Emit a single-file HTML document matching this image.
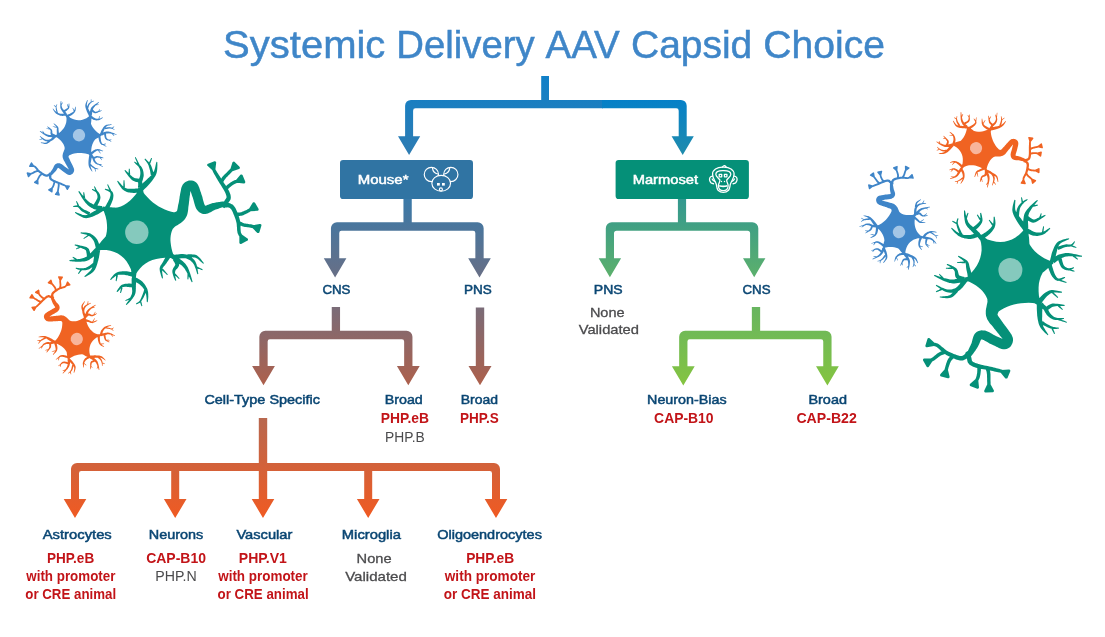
<!DOCTYPE html>
<html><head><meta charset="utf-8"><title>Systemic Delivery AAV Capsid Choice</title>
<style>
html,body{margin:0;padding:0;background:#fff;}
body{width:1105px;height:637px;overflow:hidden;font-family:"Liberation Sans",sans-serif;}
svg{display:block;will-change:transform;opacity:0.9999;}
text{font-family:"Liberation Sans",sans-serif;}
</style></head><body>
<svg width="1105" height="637" viewBox="0 0 1105 637">
<defs>
<linearGradient id="gTopL" gradientUnits="userSpaceOnUse" x1="0" y1="76" x2="0" y2="155"><stop offset="0" stop-color="#1080c8"/><stop offset="1" stop-color="#2f7cb2"/></linearGradient>
<linearGradient id="gTopR" gradientUnits="userSpaceOnUse" x1="0" y1="100" x2="0" y2="155"><stop offset="0" stop-color="#0580c8"/><stop offset="1" stop-color="#208cac"/></linearGradient>
<clipPath id="cL"><rect x="0" y="0" width="603" height="637"/></clipPath>
<clipPath id="cR"><rect x="602" y="0" width="503" height="637"/></clipPath>
<linearGradient id="gMouse" gradientUnits="userSpaceOnUse" x1="0" y1="199" x2="0" y2="277"><stop offset="0" stop-color="#3a79a8"/><stop offset="1" stop-color="#686f86"/></linearGradient>
<linearGradient id="gMarm" gradientUnits="userSpaceOnUse" x1="0" y1="199" x2="0" y2="277"><stop offset="0" stop-color="#33988f"/><stop offset="1" stop-color="#5cb06c"/></linearGradient>
<linearGradient id="gMauve" gradientUnits="userSpaceOnUse" x1="0" y1="307" x2="0" y2="385"><stop offset="0" stop-color="#7a6c78"/><stop offset="1" stop-color="#ad604c"/></linearGradient>
<linearGradient id="gGreen" gradientUnits="userSpaceOnUse" x1="0" y1="307" x2="0" y2="385"><stop offset="0" stop-color="#68b560"/><stop offset="1" stop-color="#84c441"/></linearGradient>
<linearGradient id="gOrange" gradientUnits="userSpaceOnUse" x1="0" y1="418" x2="0" y2="518"><stop offset="0" stop-color="#b8684f"/><stop offset="1" stop-color="#f05a22"/></linearGradient>
<path id="nrn" d="M-32.0,-35.2 -27.3,-32.6 -22.8,-30.6 -18.4,-29.2 -14.1,-28.3 -10.0,-28.0 -6.0,-28.3 -2.2,-29.2 1.5,-30.6 5.1,-32.6 8.5,-35.1 11.8,-38.3 14.9,-42.0 15.2,-38.1 15.9,-34.4 16.9,-30.8 18.2,-27.5 19.9,-24.4 22.0,-21.5 24.4,-18.8 27.2,-16.3 30.3,-13.9 33.8,-11.8 37.6,-9.9 41.8,-8.2 38.8,-5.6 36.1,-2.8 33.9,0.2 32.0,3.3 30.4,6.6 29.3,10.0 28.5,13.6 28.2,17.4 28.2,21.3 28.5,25.4 29.3,29.6 30.4,34.0 26.2,33.4 22.2,33.0 18.2,32.8 14.4,32.9 10.6,33.2 7.0,33.8 3.5,34.6 0.1,35.6 -3.2,36.8 -6.4,38.3 -9.5,40.0 -12.5,42.0 -13.2,41.5 -13.9,41.0 -14.6,40.4 -15.4,39.7 -16.2,38.9 -17.0,38.0 -17.8,37.0 -18.7,36.0 -19.6,34.9 -20.6,33.7 -21.5,32.4 -22.5,31.0 -23.2,28.8 -24.1,26.7 -25.2,24.7 -26.6,22.7 -28.2,20.8 -30.0,19.0 -32.1,17.3 -34.4,15.6 -36.9,14.0 -39.7,12.4 -42.7,11.0 -46.0,9.6 -42.1,6.1 -38.8,2.6 -35.9,-1.0 -33.5,-4.6 -31.6,-8.3 -30.2,-12.0 -29.3,-15.8 -28.8,-19.6 -28.9,-23.4 -29.4,-27.3 -30.5,-31.2ZM-25.0,-19.8 -25.3,-20.6 -25.8,-21.6 -26.4,-22.8 -27.1,-24.1 -27.8,-25.4 -28.5,-26.7 -29.1,-27.9 -29.6,-28.9 -30.2,-29.7 -30.8,-30.5 -31.4,-31.3 -32.0,-32.0 -32.5,-32.6 -33.0,-33.2 -33.3,-33.8 -33.6,-34.2 -31.2,-36.6 -30.8,-36.4 -30.3,-36.0 -29.6,-35.6 -29.0,-35.1 -28.2,-34.5 -27.4,-33.9 -26.6,-33.2 -25.8,-32.5 -24.7,-31.8 -23.6,-31.0 -22.4,-30.1 -21.2,-29.2 -20.0,-28.3 -18.9,-27.6 -17.9,-26.9 -17.2,-26.6ZM-31.7,-33.3 -32.2,-33.1 -32.9,-32.9 -33.9,-32.5 -34.9,-32.2 -36.1,-31.8 -37.3,-31.5 -38.5,-31.2 -39.8,-31.1 -40.9,-31.0 -42.1,-31.1 -43.3,-31.2 -44.5,-31.4 -45.7,-31.6 -46.8,-31.9 -47.9,-32.2 -48.9,-32.5 -49.8,-32.9 -50.7,-33.4 -51.4,-33.8 -52.2,-34.3 -52.8,-34.8 -53.5,-35.4 -54.1,-35.9 -54.7,-36.5 -55.4,-37.1 -56.1,-37.8 -56.8,-38.6 -57.4,-39.3 -58.0,-40.0 -58.6,-40.7 -59.0,-41.3 -59.3,-41.7 -58.7,-42.3 -58.2,-42.0 -57.7,-41.6 -57.1,-41.0 -56.4,-40.4 -55.6,-39.8 -54.9,-39.2 -54.1,-38.6 -53.4,-38.1 -52.8,-37.7 -52.1,-37.3 -51.5,-36.9 -50.8,-36.5 -50.1,-36.2 -49.5,-35.9 -48.8,-35.7 -48.0,-35.5 -47.1,-35.3 -46.2,-35.1 -45.2,-35.0 -44.1,-34.9 -43.1,-34.9 -42.0,-34.9 -41.0,-35.0 -40.2,-35.1 -39.3,-35.2 -38.4,-35.5 -37.4,-35.8 -36.4,-36.2 -35.4,-36.6 -34.5,-37.0 -33.8,-37.3 -33.2,-37.5ZM-49.6,-33.7 -49.8,-34.2 -50.1,-34.7 -50.4,-35.5 -50.8,-36.3 -51.2,-37.1 -51.6,-38.0 -52.0,-38.9 -52.3,-39.7 -52.6,-40.5 -52.9,-41.4 -53.2,-42.3 -53.4,-43.2 -53.7,-44.1 -53.9,-45.0 -54.0,-45.8 -54.1,-46.7 -54.1,-47.5 -54.0,-48.3 -53.8,-49.0 -53.6,-49.7 -53.4,-50.4 -53.2,-50.9 -53.0,-51.4 -52.9,-51.7 -51.9,-51.5 -52.0,-51.1 -52.1,-50.6 -52.2,-50.1 -52.4,-49.4 -52.5,-48.8 -52.6,-48.1 -52.6,-47.4 -52.6,-46.8 -52.4,-46.1 -52.2,-45.4 -51.9,-44.6 -51.6,-43.8 -51.3,-43.0 -50.9,-42.1 -50.6,-41.3 -50.2,-40.5 -49.9,-39.8 -49.5,-39.0 -49.1,-38.1 -48.7,-37.3 -48.2,-36.6 -47.9,-35.9 -47.5,-35.3 -47.3,-34.9ZM-53.5,-45.5 -54.1,-45.9 -54.7,-46.2 -55.3,-46.6 -55.9,-46.9 -56.5,-47.3 -57.1,-47.7 -57.7,-48.0 -58.3,-48.4 -57.8,-49.2 -57.2,-48.9 -56.6,-48.7 -55.9,-48.4 -55.3,-48.1 -54.7,-47.8 -54.0,-47.5 -53.4,-47.3 -52.8,-47.0ZM-33.6,-33.2 -34.0,-33.7 -34.5,-34.2 -35.1,-34.8 -35.8,-35.6 -36.5,-36.3 -37.3,-37.1 -38.0,-37.9 -38.6,-38.6 -39.3,-39.2 -39.9,-39.9 -40.7,-40.6 -41.4,-41.4 -42.2,-42.2 -42.9,-43.0 -43.6,-43.9 -44.2,-44.9 -44.7,-45.9 -45.1,-47.0 -45.4,-48.1 -45.6,-49.2 -45.8,-50.2 -45.9,-51.2 -46.0,-52.2 -46.2,-53.1 -46.3,-54.0 -46.4,-55.0 -46.4,-55.9 -46.4,-56.8 -46.4,-57.6 -46.4,-58.3 -46.4,-58.9 -46.4,-59.4 -45.4,-59.5 -45.3,-59.0 -45.2,-58.4 -45.0,-57.7 -44.9,-56.9 -44.7,-56.1 -44.6,-55.2 -44.4,-54.4 -44.1,-53.5 -43.8,-52.7 -43.6,-51.8 -43.3,-50.8 -42.9,-49.9 -42.6,-49.0 -42.2,-48.1 -41.8,-47.3 -41.3,-46.7 -40.8,-46.0 -40.3,-45.4 -39.6,-44.8 -38.8,-44.2 -38.1,-43.6 -37.2,-43.0 -36.4,-42.4 -35.6,-41.7 -34.9,-41.0 -34.1,-40.3 -33.3,-39.5 -32.6,-38.8 -31.8,-38.1 -31.2,-37.5 -30.7,-37.0 -30.2,-36.6ZM-45.3,-51.8 -45.0,-52.4 -44.7,-53.1 -44.4,-53.8 -44.0,-54.5 -43.7,-55.2 -43.4,-55.9 -43.1,-56.6 -42.7,-57.3 -41.9,-56.9 -42.1,-56.2 -42.3,-55.5 -42.5,-54.7 -42.8,-54.0 -43.0,-53.3 -43.2,-52.6 -43.4,-51.8 -43.6,-51.1ZM-38.4,-42.1 -38.0,-42.4 -37.4,-42.8 -36.8,-43.2 -36.1,-43.7 -35.4,-44.3 -34.8,-44.8 -34.2,-45.3 -33.6,-45.8 -33.1,-46.3 -32.6,-46.8 -32.1,-47.3 -31.6,-47.8 -31.2,-48.3 -30.8,-48.7 -30.5,-49.2 -30.3,-49.8 -30.2,-50.5 -30.1,-51.4 -30.0,-52.4 -30.1,-53.5 -30.2,-54.6 -30.2,-55.6 -30.3,-56.4 -30.2,-57.0 -29.3,-57.2 -29.1,-56.6 -28.9,-55.8 -28.6,-54.8 -28.4,-53.7 -28.2,-52.6 -28.0,-51.5 -27.9,-50.4 -27.9,-49.3 -28.1,-48.4 -28.4,-47.5 -28.8,-46.7 -29.3,-46.0 -29.7,-45.3 -30.2,-44.7 -30.7,-44.1 -31.2,-43.5 -31.8,-42.8 -32.4,-42.2 -33.1,-41.5 -33.8,-40.9 -34.5,-40.3 -35.1,-39.8 -35.5,-39.4 -35.9,-39.1ZM-30.8,-49.9 -31.1,-50.5 -31.5,-51.1 -31.8,-51.8 -32.2,-52.4 -32.5,-53.0 -32.9,-53.7 -33.2,-54.3 -33.6,-55.0 -32.8,-55.5 -32.3,-54.9 -31.9,-54.3 -31.5,-53.7 -31.1,-53.1 -30.6,-52.5 -30.2,-51.9 -29.8,-51.3 -29.4,-50.8ZM-29.5,-34.9 -28.9,-35.3 -28.0,-35.8 -27.1,-36.3 -26.1,-37.0 -25.1,-37.6 -24.1,-38.3 -23.2,-39.0 -22.4,-39.6 -21.7,-40.3 -20.9,-40.9 -20.2,-41.6 -19.6,-42.3 -19.0,-43.0 -18.5,-43.7 -18.0,-44.5 -17.6,-45.2 -17.3,-46.1 -17.1,-47.1 -17.0,-48.3 -16.9,-49.5 -16.8,-50.6 -16.8,-51.7 -16.8,-52.6 -16.7,-53.3 -15.7,-53.3 -15.6,-52.7 -15.5,-51.8 -15.3,-50.7 -15.1,-49.5 -15.0,-48.2 -14.9,-47.0 -15.0,-45.7 -15.2,-44.5 -15.5,-43.4 -15.9,-42.3 -16.5,-41.3 -17.0,-40.4 -17.7,-39.5 -18.4,-38.6 -19.1,-37.7 -19.8,-36.9 -20.7,-36.0 -21.7,-35.2 -22.7,-34.3 -23.8,-33.5 -24.8,-32.8 -25.6,-32.1 -26.4,-31.6 -26.9,-31.2ZM-18.2,-44.5 -18.7,-45.1 -19.1,-45.8 -19.5,-46.5 -20.0,-47.1 -20.4,-47.8 -20.8,-48.4 -21.2,-49.1 -21.7,-49.7 -20.9,-50.3 -20.4,-49.7 -19.9,-49.1 -19.4,-48.5 -18.9,-47.9 -18.3,-47.3 -17.8,-46.8 -17.3,-46.2 -16.8,-45.6ZM8.3,-24.2 8.8,-25.1 9.3,-26.3 9.8,-27.7 10.4,-29.2 11.0,-30.8 11.5,-32.3 12.0,-33.7 12.4,-34.9 12.6,-35.9 12.7,-37.0 12.7,-38.0 12.7,-39.0 12.8,-39.9 12.8,-40.8 12.8,-41.5 12.9,-42.1 16.8,-42.5 17.0,-42.0 17.2,-41.3 17.4,-40.4 17.6,-39.5 17.8,-38.4 18.0,-37.2 18.2,-35.9 18.3,-34.6 18.5,-33.2 18.7,-31.5 18.8,-29.8 18.9,-28.0 19.0,-26.4 19.1,-24.9 19.3,-23.6 19.5,-22.7ZM12.6,-40.1 12.2,-40.7 11.6,-41.5 10.9,-42.5 10.0,-43.6 9.2,-44.8 8.3,-46.0 7.5,-47.3 6.7,-48.5 6.1,-49.6 5.4,-50.8 4.7,-52.0 4.0,-53.3 3.3,-54.7 2.8,-56.0 2.3,-57.5 2.0,-59.0 1.9,-60.5 2.1,-62.2 2.3,-63.8 2.7,-65.4 3.1,-66.9 3.4,-68.3 3.8,-69.4 4.0,-70.2 5.0,-70.0 5.0,-69.2 4.9,-68.0 4.8,-66.6 4.7,-65.1 4.7,-63.6 4.7,-62.1 4.8,-60.7 5.1,-59.6 5.5,-58.6 6.0,-57.5 6.7,-56.5 7.4,-55.4 8.2,-54.4 9.1,-53.3 9.9,-52.2 10.8,-51.2 11.5,-50.1 12.4,-49.1 13.3,-48.0 14.2,-46.9 15.1,-45.9 15.9,-45.0 16.6,-44.2 17.1,-43.6ZM5.2,-52.9 5.3,-53.6 5.5,-54.5 5.6,-55.7 5.8,-57.0 6.0,-58.3 6.3,-59.7 6.6,-60.9 7.0,-62.1 7.5,-63.1 8.0,-63.9 8.6,-64.8 9.2,-65.5 9.8,-66.2 10.4,-66.8 11.1,-67.4 11.7,-67.9 12.4,-68.5 13.1,-69.0 13.8,-69.4 14.6,-69.9 15.2,-70.2 15.9,-70.5 16.4,-70.8 16.8,-71.0 17.3,-70.2 16.9,-69.9 16.5,-69.5 15.9,-69.1 15.3,-68.7 14.7,-68.2 14.0,-67.7 13.5,-67.2 13.0,-66.6 12.5,-66.0 11.9,-65.4 11.4,-64.8 11.0,-64.1 10.5,-63.4 10.1,-62.7 9.8,-61.9 9.5,-61.2 9.3,-60.3 9.1,-59.1 8.9,-57.9 8.8,-56.6 8.7,-55.4 8.6,-54.2 8.6,-53.2 8.5,-52.5ZM11.2,-66.6 11.2,-67.4 11.1,-68.1 11.0,-68.9 10.9,-69.6 10.9,-70.3 10.8,-71.1 10.7,-71.8 10.6,-72.6 11.6,-72.7 11.7,-72.0 11.9,-71.3 12.1,-70.6 12.3,-69.8 12.5,-69.1 12.7,-68.4 12.8,-67.7 13.0,-67.0ZM12.4,-41.9 12.5,-42.9 12.6,-44.2 12.7,-45.9 12.8,-47.8 12.9,-49.7 13.1,-51.6 13.4,-53.4 13.7,-55.0 14.2,-56.4 14.7,-57.6 15.3,-58.6 16.0,-59.6 16.7,-60.5 17.4,-61.3 18.1,-62.1 18.9,-63.0 19.8,-64.0 20.9,-65.0 22.0,-66.1 23.1,-67.1 24.2,-68.1 25.3,-68.9 26.1,-69.6 26.8,-70.1 27.5,-69.5 27.0,-68.8 26.3,-67.9 25.5,-66.9 24.6,-65.8 23.6,-64.6 22.7,-63.4 21.9,-62.2 21.2,-61.2 20.6,-60.2 20.0,-59.3 19.5,-58.5 19.1,-57.7 18.7,-56.9 18.4,-56.0 18.1,-55.1 17.9,-54.1 17.7,-52.8 17.7,-51.3 17.6,-49.5 17.6,-47.7 17.7,-45.9 17.8,-44.2 17.8,-42.8 17.9,-41.8ZM22.5,-64.8 23.1,-64.9 23.7,-64.9 24.3,-65.0 24.9,-65.1 25.5,-65.2 26.1,-65.2 26.7,-65.3 27.3,-65.4 27.5,-64.5 26.9,-64.3 26.3,-64.1 25.8,-64.0 25.2,-63.8 24.6,-63.6 24.0,-63.5 23.4,-63.3 22.8,-63.2ZM17.5,-54.1 18.1,-53.7 18.7,-53.2 19.5,-52.6 20.3,-52.0 21.1,-51.5 21.8,-51.0 22.5,-50.7 23.0,-50.5 23.5,-50.5 24.1,-50.6 24.8,-50.8 25.6,-51.1 26.4,-51.5 27.3,-51.9 28.1,-52.3 29.0,-52.7 29.8,-53.0 30.6,-53.4 31.4,-53.7 32.2,-54.1 33.0,-54.4 33.7,-54.7 34.3,-55.0 34.7,-55.2 35.2,-54.3 34.8,-54.0 34.3,-53.7 33.7,-53.2 33.0,-52.7 32.3,-52.2 31.5,-51.7 30.7,-51.2 30.0,-50.8 29.3,-50.3 28.5,-49.8 27.7,-49.2 26.9,-48.7 26.0,-48.2 25.0,-47.7 23.9,-47.4 22.8,-47.3 21.5,-47.4 20.4,-47.9 19.3,-48.4 18.3,-49.0 17.3,-49.6 16.5,-50.2 15.9,-50.6 15.4,-50.8ZM28.5,-51.8 28.7,-52.4 29.0,-53.0 29.2,-53.7 29.5,-54.3 29.7,-54.9 30.0,-55.5 30.2,-56.1 30.4,-56.8 31.3,-56.5 31.2,-55.8 31.0,-55.2 30.9,-54.5 30.7,-53.9 30.5,-53.2 30.4,-52.6 30.2,-51.9 30.1,-51.3ZM16.9,-42.0 17.5,-41.6 18.3,-41.1 19.2,-40.5 20.3,-39.9 21.3,-39.3 22.4,-38.7 23.4,-38.3 24.2,-38.0 25.1,-37.8 26.1,-37.6 27.0,-37.5 28.0,-37.5 29.0,-37.5 30.0,-37.5 30.9,-37.7 31.8,-37.9 32.8,-38.2 33.8,-38.7 34.9,-39.3 36.0,-40.0 37.0,-40.7 37.9,-41.3 38.7,-41.8 39.4,-42.2 39.9,-41.5 39.5,-40.9 38.8,-40.3 38.0,-39.5 37.1,-38.6 36.0,-37.7 35.0,-36.8 33.9,-36.0 32.8,-35.4 31.6,-35.0 30.5,-34.7 29.4,-34.4 28.2,-34.2 27.0,-34.1 25.8,-34.1 24.6,-34.2 23.4,-34.3 22.1,-34.6 20.8,-35.1 19.5,-35.6 18.3,-36.2 17.2,-36.8 16.2,-37.3 15.4,-37.7 14.8,-37.9ZM31.3,-37.0 31.5,-37.8 31.7,-38.7 31.9,-39.5 32.0,-40.4 32.2,-41.2 32.4,-42.1 32.6,-42.9 32.8,-43.8 33.7,-43.6 33.6,-42.8 33.5,-41.9 33.4,-41.0 33.3,-40.2 33.2,-39.3 33.1,-38.4 33.0,-37.6 32.9,-36.7ZM23.2,-3.8 24.2,-3.9 25.5,-4.2 27.1,-4.7 28.7,-5.1 30.4,-5.7 32.1,-6.2 33.6,-6.6 34.8,-6.9 35.8,-7.4 36.7,-7.8 37.6,-8.2 38.4,-8.6 39.1,-9.0 39.8,-9.3 40.4,-9.6 40.9,-9.8 43.0,-6.7 42.7,-6.3 42.3,-5.9 41.7,-5.4 41.1,-4.8 40.4,-4.1 39.6,-3.5 38.7,-2.8 37.7,-2.0 36.7,-1.0 35.5,0.0 34.1,1.2 32.8,2.3 31.4,3.4 30.2,4.5 29.3,5.4 28.6,6.2ZM39.2,-8.3 39.5,-9.1 39.8,-10.3 40.1,-11.6 40.5,-13.1 40.9,-14.8 41.3,-16.4 41.8,-17.9 42.3,-19.3 42.8,-20.5 43.2,-21.6 43.7,-22.8 44.3,-24.0 44.9,-25.1 45.7,-26.2 46.5,-27.3 47.6,-28.2 48.9,-29.0 50.4,-29.6 52.0,-30.2 53.6,-30.7 55.1,-31.0 56.5,-31.4 57.7,-31.6 58.5,-31.8 58.9,-30.9 58.1,-30.5 57.0,-30.0 55.6,-29.4 54.2,-28.8 52.8,-28.2 51.4,-27.5 50.3,-26.7 49.5,-26.0 48.9,-25.2 48.4,-24.4 47.9,-23.5 47.6,-22.6 47.3,-21.5 46.9,-20.4 46.6,-19.2 46.3,-17.9 46.0,-16.7 45.6,-15.3 45.3,-13.7 45.0,-12.2 44.8,-10.7 44.6,-9.3 44.4,-8.1 44.2,-7.2ZM46.8,-23.2 47.5,-23.4 48.3,-23.6 49.3,-24.0 50.4,-24.3 51.6,-24.7 52.7,-25.0 53.8,-25.3 54.8,-25.6 55.8,-25.7 56.7,-25.7 57.5,-25.6 58.2,-25.6 58.9,-25.5 59.5,-25.5 60.0,-25.5 60.4,-25.6 60.9,-25.8 61.4,-26.1 61.9,-26.6 62.4,-27.1 62.9,-27.6 63.3,-28.1 63.7,-28.5 64.0,-28.8 64.7,-28.2 64.5,-27.9 64.2,-27.4 63.9,-26.8 63.5,-26.2 63.0,-25.6 62.5,-24.9 61.9,-24.4 61.2,-23.9 60.4,-23.6 59.7,-23.4 58.9,-23.3 58.2,-23.3 57.5,-23.3 56.8,-23.2 56.1,-23.1 55.4,-23.0 54.6,-22.7 53.6,-22.4 52.5,-21.9 51.4,-21.5 50.4,-21.1 49.4,-20.7 48.6,-20.3 48.0,-20.1ZM60.9,-25.2 61.5,-24.9 62.2,-24.6 62.9,-24.3 63.5,-24.0 64.2,-23.7 64.8,-23.4 65.5,-23.1 66.1,-22.8 65.8,-21.9 65.1,-22.2 64.4,-22.4 63.7,-22.6 63.0,-22.8 62.4,-23.0 61.7,-23.2 61.0,-23.5 60.3,-23.7ZM41.0,-10.7 41.5,-11.0 42.2,-11.5 43.1,-12.1 44.1,-12.8 45.1,-13.5 46.3,-14.2 47.4,-14.9 48.6,-15.4 49.7,-15.7 50.7,-16.1 51.8,-16.3 52.9,-16.6 54.0,-16.8 55.2,-16.9 56.5,-16.9 58.0,-16.9 59.6,-16.7 61.5,-16.4 63.4,-16.1 65.5,-15.7 67.4,-15.2 69.2,-14.8 70.6,-14.5 71.7,-14.2 71.6,-13.2 70.4,-13.2 68.9,-13.3 67.1,-13.5 65.2,-13.6 63.2,-13.7 61.2,-13.8 59.4,-13.8 58.0,-13.7 56.7,-13.6 55.6,-13.4 54.7,-13.2 53.7,-12.9 52.9,-12.6 52.0,-12.3 51.2,-11.9 50.3,-11.5 49.5,-11.0 48.6,-10.5 47.7,-9.8 46.7,-9.1 45.9,-8.4 45.1,-7.8 44.4,-7.2 43.8,-6.8ZM63.2,-15.1 63.8,-14.6 64.3,-14.0 64.9,-13.5 65.5,-13.0 66.0,-12.5 66.6,-12.0 67.1,-11.5 67.7,-11.0 67.1,-10.2 66.5,-10.7 65.8,-11.1 65.2,-11.5 64.6,-11.9 64.0,-12.4 63.3,-12.8 62.7,-13.2 62.1,-13.7ZM51.1,-12.2 51.3,-11.4 51.6,-10.5 51.8,-9.4 52.1,-8.2 52.5,-7.1 52.8,-6.0 53.2,-5.1 53.5,-4.5 53.9,-4.0 54.4,-3.5 54.9,-3.1 55.5,-2.7 56.1,-2.4 56.8,-2.1 57.4,-1.9 58.0,-1.8 58.6,-1.7 59.3,-1.7 60.1,-1.9 60.9,-2.1 61.6,-2.3 62.3,-2.6 63.0,-2.7 63.4,-2.8 63.8,-2.0 63.4,-1.7 62.8,-1.4 62.2,-1.1 61.4,-0.7 60.6,-0.3 59.7,0.0 58.8,0.3 57.9,0.4 57.0,0.3 56.2,0.2 55.3,-0.0 54.4,-0.3 53.5,-0.7 52.7,-1.2 51.8,-1.8 51.1,-2.6 50.4,-3.6 49.8,-4.7 49.2,-5.9 48.8,-7.2 48.3,-8.4 48.0,-9.5 47.7,-10.3 47.4,-10.9ZM58.4,-1.5 59.1,-1.2 59.9,-0.9 60.6,-0.6 61.3,-0.3 62.1,0.0 62.8,0.3 63.5,0.6 64.2,0.9 63.9,1.8 63.2,1.6 62.4,1.4 61.7,1.2 60.9,0.9 60.1,0.7 59.4,0.5 58.6,0.3 57.9,0.1ZM41.4,-5.2 41.6,-4.4 41.9,-3.3 42.3,-2.1 42.7,-0.7 43.1,0.7 43.6,2.0 44.0,3.2 44.4,4.1 44.8,4.9 45.3,5.7 45.7,6.4 46.1,7.0 46.5,7.5 47.0,7.9 47.4,8.2 47.8,8.5 48.3,8.6 49.1,8.5 50.1,8.3 51.1,8.0 52.1,7.6 53.0,7.3 53.9,7.0 54.5,6.9 54.8,7.7 54.3,8.1 53.6,8.5 52.7,9.0 51.7,9.6 50.7,10.1 49.6,10.5 48.5,10.8 47.4,10.9 46.4,10.6 45.5,10.2 44.7,9.7 43.9,9.1 43.2,8.3 42.6,7.6 41.9,6.7 41.3,5.8 40.7,4.7 40.1,3.4 39.5,2.0 38.9,0.6 38.4,-0.8 37.9,-2.0 37.5,-3.0 37.2,-3.7ZM49.6,9.4 50.4,9.7 51.2,10.0 52.1,10.4 52.9,10.7 53.7,11.0 54.6,11.4 55.4,11.7 56.2,12.0 55.9,12.9 55.1,12.7 54.2,12.4 53.3,12.2 52.5,11.9 51.6,11.7 50.7,11.4 49.9,11.2 49.0,10.9ZM19.5,18.5 20.0,19.4 20.8,20.5 21.8,21.7 23.0,23.1 24.2,24.5 25.3,25.8 26.3,27.1 27.1,28.1 27.9,28.9 28.7,29.6 29.3,30.2 30.0,30.8 30.5,31.3 31.0,31.8 31.4,32.2 31.7,32.5 29.3,35.9 28.9,35.7 28.4,35.5 27.8,35.2 27.1,34.8 26.3,34.4 25.4,33.9 24.5,33.4 23.5,32.8 22.3,32.2 20.8,31.5 19.2,30.6 17.6,29.8 16.0,29.0 14.6,28.2 13.3,27.7 12.4,27.3ZM26.8,30.8 27.3,30.3 27.9,29.5 28.7,28.6 29.6,27.6 30.5,26.6 31.5,25.5 32.5,24.6 33.4,23.8 34.3,23.1 35.1,22.5 36.0,21.9 36.9,21.4 37.8,21.0 38.9,20.6 39.9,20.3 41.1,20.1 42.5,20.0 43.9,20.2 45.5,20.4 47.0,20.7 48.4,21.0 49.7,21.3 50.8,21.6 51.6,21.8 51.5,22.7 50.7,22.7 49.5,22.7 48.2,22.7 46.7,22.6 45.3,22.6 43.8,22.6 42.6,22.7 41.6,22.9 40.8,23.2 40.0,23.5 39.4,23.9 38.7,24.4 38.1,24.9 37.5,25.5 36.8,26.1 36.1,26.8 35.4,27.5 34.6,28.4 33.8,29.4 33.0,30.4 32.2,31.5 31.5,32.4 30.9,33.3 30.5,33.9ZM42.9,22.1 43.5,22.7 44.1,23.4 44.8,24.0 45.4,24.7 46.0,25.3 46.6,26.0 47.2,26.6 47.8,27.3 47.2,28.0 46.5,27.4 45.8,26.8 45.1,26.2 44.4,25.7 43.7,25.1 43.0,24.5 42.4,23.9 41.7,23.4ZM32.1,32.6 32.5,33.1 33.1,33.7 33.6,34.4 34.2,35.0 34.8,35.6 35.4,36.1 35.7,36.4 35.9,36.4 35.9,36.5 36.2,36.4 36.8,36.1 37.5,35.6 38.4,35.0 39.4,34.5 40.6,33.9 42.0,33.6 43.5,33.6 45.2,33.7 47.0,33.8 48.8,34.0 50.5,34.3 52.1,34.5 53.4,34.7 54.4,34.9 54.3,35.8 53.4,35.9 52.0,36.0 50.4,36.0 48.7,36.1 46.9,36.1 45.2,36.3 43.7,36.4 42.6,36.7 41.8,37.0 41.0,37.4 40.3,37.9 39.6,38.5 38.9,39.1 38.0,39.8 36.9,40.3 35.5,40.5 34.2,40.2 33.0,39.6 32.0,38.8 31.2,38.1 30.4,37.3 29.8,36.6 29.3,36.1 28.9,35.8ZM48.6,35.0 49.1,35.5 49.6,36.1 50.1,36.6 50.6,37.2 51.0,37.7 51.5,38.3 52.0,38.8 52.5,39.3 51.9,40.0 51.3,39.6 50.7,39.1 50.2,38.6 49.6,38.2 49.0,37.7 48.5,37.2 47.9,36.8 47.3,36.3ZM36.5,36.6 36.7,37.2 37.1,38.0 37.5,38.9 37.9,39.9 38.4,40.9 38.9,41.9 39.4,42.7 39.9,43.4 40.4,44.0 41.0,44.7 41.7,45.3 42.4,45.9 43.1,46.4 43.9,46.9 44.6,47.3 45.4,47.6 46.3,47.8 47.3,48.0 48.5,48.0 49.7,48.0 50.9,47.9 51.9,47.9 52.9,47.9 53.6,47.9 53.7,48.8 53.0,49.0 52.1,49.2 51.1,49.5 49.9,49.7 48.6,49.9 47.3,50.1 46.0,50.1 44.8,50.0 43.7,49.8 42.7,49.4 41.7,49.0 40.7,48.4 39.8,47.9 38.9,47.2 38.0,46.5 37.2,45.8 36.4,44.9 35.7,43.8 35.0,42.7 34.4,41.7 33.8,40.6 33.4,39.7 33.0,39.0 32.7,38.5ZM48.0,48.5 49.1,48.9 50.2,49.4 51.2,49.8 52.3,50.2 53.4,50.6 54.5,51.0 55.5,51.4 56.6,51.9 56.3,52.8 55.2,52.4 54.1,52.1 53.0,51.8 51.9,51.4 50.8,51.1 49.7,50.8 48.6,50.4 47.5,50.1ZM32.3,33.8 32.2,34.7 32.1,36.0 32.0,37.4 31.9,39.0 31.9,40.7 31.8,42.4 31.8,43.9 31.8,45.4 31.8,46.7 31.7,48.1 31.7,49.4 31.8,50.6 31.8,51.8 32.0,53.0 32.2,54.1 32.5,55.2 32.9,56.4 33.6,57.7 34.4,59.1 35.2,60.4 36.1,61.7 36.9,62.9 37.5,63.9 38.0,64.7 37.2,65.2 36.6,64.6 35.7,63.8 34.7,62.9 33.6,61.7 32.4,60.5 31.3,59.2 30.3,57.9 29.5,56.6 28.9,55.2 28.4,53.9 28.0,52.5 27.7,51.1 27.4,49.8 27.2,48.4 27.0,47.1 26.8,45.7 26.7,44.1 26.6,42.4 26.5,40.7 26.4,38.9 26.4,37.3 26.4,35.8 26.3,34.6 26.3,33.7ZM32.3,51.1 33.0,51.6 33.9,52.2 34.9,52.9 36.1,53.7 37.4,54.4 38.6,55.1 39.8,55.7 40.8,56.2 41.8,56.6 42.8,56.9 43.9,57.1 45.0,57.3 46.1,57.4 47.0,57.5 47.8,57.6 48.5,57.8 48.4,58.7 47.8,58.8 47.0,58.8 46.0,58.9 44.9,58.9 43.7,58.9 42.5,58.8 41.3,58.7 40.0,58.4 38.8,58.0 37.5,57.4 36.1,56.8 34.7,56.1 33.5,55.5 32.3,54.9 31.4,54.4 30.7,54.0ZM42.6,58.2 42.8,58.9 43.1,59.6 43.3,60.3 43.6,61.0 43.9,61.6 44.1,62.3 44.4,63.0 44.6,63.7 43.8,64.1 43.4,63.4 43.1,62.8 42.7,62.1 42.4,61.5 42.1,60.8 41.7,60.2 41.4,59.5 41.1,58.9ZM-23.0,10.8 -23.9,10.7 -25.2,10.7 -26.7,10.7 -28.3,10.8 -30.1,10.9 -31.9,11.0 -33.6,11.1 -35.2,11.0 -36.7,11.2 -38.2,11.3 -39.8,11.4 -41.3,11.5 -42.7,11.5 -44.0,11.6 -45.1,11.6 -45.9,11.5 -46.3,7.6 -45.6,7.4 -44.5,7.2 -43.3,6.9 -41.9,6.6 -40.5,6.3 -39.0,6.0 -37.6,5.7 -36.3,5.3 -35.0,4.7 -33.6,4.0 -32.0,3.3 -30.5,2.5 -29.1,1.8 -27.8,1.1 -26.7,0.4 -25.8,-0.1ZM-42.2,8.7 -42.3,7.9 -42.5,6.8 -42.8,5.5 -43.0,4.1 -43.3,2.6 -43.6,1.2 -43.9,-0.1 -44.1,-1.3 -44.3,-2.4 -44.4,-3.4 -44.4,-4.3 -44.5,-5.0 -44.6,-5.7 -44.7,-6.3 -44.9,-6.9 -45.2,-7.4 -45.8,-8.2 -46.7,-9.0 -47.7,-9.8 -48.8,-10.7 -50.0,-11.5 -51.0,-12.2 -51.9,-12.9 -52.5,-13.4 -52.0,-14.2 -51.3,-13.9 -50.3,-13.4 -49.1,-12.9 -47.9,-12.2 -46.6,-11.5 -45.3,-10.8 -44.2,-10.0 -43.2,-9.2 -42.5,-8.3 -42.0,-7.4 -41.6,-6.5 -41.3,-5.6 -41.2,-4.7 -41.0,-3.9 -40.8,-3.0 -40.5,-2.1 -40.2,-1.0 -39.8,0.3 -39.4,1.7 -39.0,3.2 -38.7,4.6 -38.3,5.8 -38.0,6.9 -37.8,7.7ZM-45.3,-6.7 -46.3,-6.7 -47.3,-6.8 -48.3,-6.8 -49.3,-6.9 -50.2,-6.9 -51.2,-7.0 -52.2,-7.0 -53.2,-7.1 -53.2,-8.0 -52.2,-8.1 -51.2,-8.1 -50.2,-8.2 -49.3,-8.3 -48.3,-8.3 -47.3,-8.4 -46.3,-8.4 -45.3,-8.5ZM-47.2,11.3 -47.7,11.1 -48.3,10.9 -49.1,10.7 -50.1,10.4 -51.2,10.0 -52.2,9.6 -53.2,9.0 -54.2,8.1 -54.9,7.0 -55.2,5.9 -55.4,4.8 -55.5,3.8 -55.5,2.9 -55.6,2.1 -55.7,1.4 -55.9,0.9 -56.2,0.5 -56.5,-0.0 -57.0,-0.5 -57.5,-1.0 -58.1,-1.5 -58.7,-1.9 -59.3,-2.4 -59.8,-2.8 -60.3,-3.2 -60.9,-3.5 -61.4,-3.9 -62.0,-4.2 -62.5,-4.5 -63.0,-4.8 -63.4,-5.0 -63.7,-5.3 -63.3,-6.1 -63.0,-6.0 -62.6,-5.9 -62.0,-5.7 -61.4,-5.5 -60.8,-5.3 -60.1,-5.0 -59.4,-4.8 -58.8,-4.4 -58.2,-4.1 -57.5,-3.8 -56.8,-3.4 -56.1,-3.0 -55.3,-2.6 -54.6,-2.0 -53.9,-1.4 -53.3,-0.6 -52.8,0.3 -52.4,1.4 -52.2,2.4 -52.0,3.3 -51.8,4.1 -51.6,4.8 -51.4,5.3 -51.2,5.4 -50.9,5.6 -50.4,5.8 -49.7,6.1 -48.9,6.3 -48.1,6.5 -47.3,6.7 -46.5,6.8 -45.9,7.0ZM-57.9,-0.9 -58.7,-0.9 -59.5,-1.0 -60.4,-1.0 -61.2,-1.1 -62.0,-1.1 -62.8,-1.2 -63.7,-1.2 -64.5,-1.3 -64.5,-2.2 -63.7,-2.2 -62.8,-2.3 -62.0,-2.3 -61.2,-2.4 -60.4,-2.4 -59.5,-2.5 -58.7,-2.5 -57.9,-2.6ZM-45.6,12.0 -46.5,12.1 -47.7,12.3 -49.2,12.5 -50.8,12.8 -52.5,13.1 -54.2,13.3 -55.9,13.4 -57.4,13.5 -58.7,13.3 -59.9,13.1 -61.1,12.9 -62.1,12.6 -63.2,12.2 -64.2,11.8 -65.2,11.4 -66.4,10.9 -67.6,10.4 -69.0,9.7 -70.5,9.0 -72.0,8.2 -73.4,7.5 -74.6,6.8 -75.7,6.2 -76.4,5.8 -76.1,4.9 -75.2,5.1 -74.1,5.5 -72.7,6.0 -71.2,6.5 -69.7,7.0 -68.2,7.5 -66.7,7.9 -65.4,8.2 -64.3,8.6 -63.2,8.8 -62.2,9.1 -61.3,9.3 -60.4,9.4 -59.4,9.5 -58.5,9.5 -57.4,9.5 -56.2,9.4 -54.8,9.1 -53.2,8.8 -51.7,8.5 -50.1,8.1 -48.7,7.8 -47.5,7.4 -46.6,7.2ZM-67.7,9.4 -68.2,8.8 -68.6,8.2 -69.1,7.5 -69.6,6.9 -70.0,6.3 -70.5,5.7 -71.0,5.1 -71.4,4.4 -70.7,3.8 -70.2,4.4 -69.6,4.9 -69.1,5.5 -68.5,6.0 -68.0,6.6 -67.4,7.1 -66.9,7.7 -66.3,8.2ZM-43.2,11.5 -43.8,12.2 -44.5,13.2 -45.5,14.4 -46.5,15.7 -47.6,17.2 -48.9,18.5 -50.2,19.7 -51.6,20.7 -53.0,21.4 -54.4,21.9 -55.9,22.3 -57.3,22.6 -58.8,22.7 -60.3,22.7 -61.8,22.6 -63.3,22.3 -64.9,21.7 -66.6,21.0 -68.2,20.0 -69.8,19.0 -71.3,18.0 -72.7,17.0 -73.8,16.2 -74.6,15.7 -74.1,14.8 -73.2,15.2 -72.0,15.8 -70.5,16.6 -68.9,17.4 -67.2,18.1 -65.6,18.8 -64.1,19.3 -62.8,19.5 -61.6,19.6 -60.4,19.5 -59.1,19.4 -58.0,19.2 -56.8,18.8 -55.7,18.4 -54.7,17.9 -53.8,17.3 -52.9,16.6 -52.0,15.6 -51.0,14.4 -50.1,13.1 -49.2,11.8 -48.3,10.5 -47.6,9.4 -47.1,8.6ZM-68.2,20.0 -68.9,20.3 -69.7,20.6 -70.4,20.9 -71.2,21.1 -71.9,21.4 -72.7,21.7 -73.4,22.0 -74.2,22.3 -74.6,21.4 -73.9,21.0 -73.2,20.6 -72.4,20.3 -71.7,19.9 -71.0,19.5 -70.3,19.1 -69.6,18.8 -68.9,18.4ZM-52.2,21.7 -52.7,22.1 -53.3,22.8 -54.1,23.6 -55.0,24.6 -56.1,25.5 -57.2,26.4 -58.4,27.2 -59.7,27.8 -61.2,28.1 -62.7,28.2 -64.3,28.2 -65.9,28.1 -67.4,27.9 -68.7,27.8 -69.8,27.6 -70.6,27.5 -70.6,26.6 -69.8,26.4 -68.6,26.4 -67.3,26.3 -65.8,26.2 -64.4,26.1 -62.9,25.9 -61.7,25.6 -60.7,25.3 -59.9,24.8 -59.1,24.1 -58.2,23.3 -57.4,22.4 -56.6,21.4 -55.9,20.5 -55.2,19.7 -54.7,19.2ZM0.0,29.0 -0.8,29.4 -1.7,30.0 -2.6,30.7 -3.5,31.4 -4.5,32.2 -5.5,33.1 -6.4,33.9 -7.4,34.7 -8.2,35.5 -9.1,36.3 -9.6,37.4 -10.2,38.5 -10.7,39.5 -11.2,40.5 -11.7,41.4 -12.1,42.2 -12.4,42.9 -12.6,43.5 -12.8,43.9 -12.9,44.1 -12.9,44.3 -12.8,44.7 -12.7,45.1 -12.4,45.7 -11.9,46.4 -11.4,47.2 -10.8,48.0 -10.1,48.9 -9.4,49.9 -8.7,50.9 -8.2,51.8 -7.6,52.6 -7.0,53.5 -6.3,54.3 -5.7,55.2 -5.0,56.1 -4.3,56.9 -3.7,57.8 -3.0,58.7 -2.4,59.6 -1.9,60.3 -1.4,61.0 -0.9,61.8 -0.3,62.6 0.3,63.4 0.9,64.3 1.4,65.3 1.9,66.4 2.4,67.7 2.6,69.1 2.6,70.5 2.4,71.7 2.1,72.9 1.6,74.1 1.0,75.3 0.2,76.4 -0.9,77.4 -2.2,78.3 -3.8,79.0 -5.6,79.3 -7.3,79.2 -8.8,78.9 -10.1,78.4 -11.5,77.9 -12.7,77.3 -14.0,76.7 -15.2,76.1 -16.4,75.6 -17.5,75.0 -18.5,74.5 -19.7,74.0 -20.9,73.4 -22.0,72.7 -23.1,72.1 -24.1,71.5 -25.1,71.0 -26.0,70.5 -26.7,70.1 -27.3,69.9 -27.7,69.8 -28.0,69.6 -28.4,69.5 -28.6,69.5 -28.7,69.5 -28.8,69.4 -28.8,69.4 -28.8,69.3 -28.8,69.3 -28.9,69.4 -29.0,69.4 -29.1,69.4 -29.3,69.6 -29.5,70.0 -29.8,70.6 -30.1,71.3 -30.5,72.2 -30.8,73.1 -31.2,74.1 -31.7,75.1 -32.2,76.1 -32.7,77.0 -33.2,77.8 -33.8,78.7 -34.4,79.6 -34.9,80.4 -35.5,81.2 -36.1,82.0 -36.6,82.8 -37.1,83.4 -37.5,84.0 -37.9,84.6 -38.3,85.1 -38.7,85.6 -39.1,86.0 -39.4,86.3 -39.7,86.7 -40.0,86.9 -40.2,87.1 -40.4,87.3 -40.6,87.4 -44.4,84.6 -44.3,84.3 -44.2,84.1 -44.0,83.8 -43.8,83.5 -43.6,83.2 -43.4,82.8 -43.2,82.4 -43.0,82.0 -42.7,81.5 -42.5,81.0 -42.2,80.3 -41.8,79.6 -41.5,78.8 -41.1,78.0 -40.7,77.1 -40.3,76.3 -39.9,75.4 -39.5,74.5 -39.1,73.7 -38.8,72.9 -38.6,72.2 -38.4,71.5 -38.2,70.7 -38.0,69.8 -37.7,68.8 -37.5,67.9 -37.1,66.8 -36.7,65.8 -36.1,64.6 -35.4,63.6 -34.6,62.8 -33.8,62.1 -32.9,61.5 -31.8,61.0 -30.8,60.7 -29.7,60.4 -28.6,60.3 -27.5,60.4 -26.5,60.5 -25.3,60.6 -24.1,61.0 -22.9,61.5 -21.7,62.0 -20.6,62.6 -19.5,63.2 -18.4,63.8 -17.4,64.4 -16.4,64.9 -15.4,65.4 -14.5,65.9 -13.4,66.4 -12.2,66.9 -11.0,67.5 -9.8,68.1 -8.8,68.6 -7.7,69.1 -6.9,69.4 -6.2,69.6 -5.9,69.7 -6.0,69.7 -6.4,69.8 -6.8,69.9 -7.0,70.1 -7.1,70.2 -7.1,70.2 -7.1,70.1 -7.0,69.9 -7.0,69.8 -7.0,69.7 -7.0,69.9 -7.0,70.1 -7.0,70.1 -7.1,69.9 -7.4,69.5 -7.7,69.0 -8.2,68.5 -8.7,67.8 -9.3,67.0 -10.0,66.2 -10.6,65.4 -11.1,64.7 -11.7,64.0 -12.3,63.2 -13.0,62.4 -13.7,61.6 -14.4,60.7 -15.1,59.8 -15.9,58.9 -16.6,58.0 -17.3,57.1 -17.9,56.3 -18.5,55.6 -19.2,54.8 -20.0,53.9 -20.8,52.9 -21.6,51.8 -22.4,50.6 -23.2,49.2 -23.8,47.6 -24.3,45.9 -24.6,44.1 -24.6,42.3 -24.6,40.7 -24.4,39.1 -24.1,37.7 -23.8,36.3 -23.6,35.0 -23.3,33.8 -23.1,32.8 -22.9,31.7 -23.0,30.3 -23.1,28.8 -23.1,27.3 -23.1,25.8 -23.2,24.4 -23.2,23.0 -23.3,21.8 -23.5,20.7 -23.7,19.8 -24.0,19.0ZM-39.7,84.0 -40.0,84.3 -40.4,84.8 -40.9,85.4 -41.4,86.1 -42.1,86.8 -42.7,87.6 -43.4,88.3 -44.2,88.9 -44.9,89.3 -45.6,89.6 -46.3,89.9 -47.0,90.2 -47.8,90.4 -48.7,90.5 -49.5,90.5 -50.4,90.4 -51.4,90.2 -52.4,90.0 -53.4,89.7 -54.4,89.4 -55.4,89.0 -56.4,88.6 -57.4,88.2 -58.3,87.7 -59.2,87.3 -60.2,86.9 -61.1,86.5 -62.1,86.0 -63.1,85.5 -64.1,84.9 -65.1,84.3 -66.1,83.6 -67.2,82.8 -68.2,81.9 -69.3,81.0 -70.3,80.0 -71.3,79.1 -72.2,78.3 -73.1,77.6 -73.7,77.1 -74.3,76.7 -74.9,76.5 -75.4,76.3 -75.9,76.2 -76.3,76.1 -76.8,76.0 -77.3,75.9 -77.7,75.8 -76.9,72.6 -76.7,72.7 -76.3,72.7 -75.8,72.8 -75.2,72.8 -74.5,73.0 -73.7,73.3 -72.8,73.6 -71.9,74.1 -70.9,74.8 -69.9,75.5 -68.9,76.4 -67.9,77.3 -66.8,78.1 -65.8,79.0 -64.8,79.8 -63.9,80.4 -63.0,80.9 -62.1,81.4 -61.2,81.9 -60.3,82.3 -59.4,82.7 -58.5,83.1 -57.6,83.5 -56.7,83.9 -55.8,84.2 -54.8,84.6 -53.9,85.0 -53.0,85.3 -52.1,85.6 -51.3,85.8 -50.6,85.9 -50.0,86.0 -49.4,86.0 -49.0,86.0 -48.6,86.0 -48.2,85.9 -47.9,85.8 -47.6,85.6 -47.2,85.4 -46.8,85.1 -46.4,84.9 -46.0,84.4 -45.5,83.9 -45.0,83.2 -44.5,82.6 -44.0,82.0 -43.6,81.4 -43.3,81.0ZM-85.1,76.0 -84.9,75.3 -82.9,68.7 -82.5,68.2 -82.0,67.9 -81.3,67.9 -80.8,68.2 -75.7,73.1 -75.2,73.7 -75.1,74.4 -75.2,75.1 -75.7,75.7 -76.4,76.0 -83.4,77.3 -84.0,77.3 -84.5,77.0 -84.9,76.6ZM-55.8,87.3 -56.1,87.6 -56.5,88.0 -57.0,88.4 -57.5,88.9 -58.0,89.4 -58.5,89.9 -58.9,90.4 -59.3,90.9 -59.6,91.5 -59.9,92.2 -60.3,93.0 -60.6,93.8 -60.9,94.7 -61.2,95.5 -61.4,96.3 -61.7,97.0 -61.9,97.6 -62.0,98.2 -62.2,98.8 -62.3,99.3 -62.4,99.8 -62.5,100.2 -62.6,100.6 -62.7,100.9 -65.9,100.2 -65.8,100.0 -65.8,99.6 -65.7,99.1 -65.6,98.6 -65.5,98.0 -65.3,97.4 -65.1,96.7 -64.9,96.0 -64.7,95.3 -64.4,94.5 -64.2,93.6 -63.9,92.7 -63.5,91.7 -63.2,90.8 -62.8,89.9 -62.3,89.1 -61.8,88.3 -61.2,87.6 -60.6,86.9 -60.0,86.3 -59.4,85.8 -58.9,85.3 -58.5,85.0 -58.2,84.7ZM-70.4,105.2 -70.2,104.6 -69.9,104.1 -65.2,98.7 -64.5,98.4 -63.8,98.4 -63.1,98.7 -62.6,99.3 -60.9,106.2 -60.8,106.8 -60.9,107.5 -61.3,107.9 -61.9,108.2 -62.5,108.2 -69.3,106.6 -69.9,106.3 -70.2,105.8ZM-64.4,83.7 -64.9,83.9 -65.5,84.0 -66.1,84.2 -66.8,84.4 -67.6,84.7 -68.3,84.9 -69.0,85.2 -69.6,85.5 -70.3,85.9 -71.0,86.4 -71.8,87.0 -72.6,87.7 -73.4,88.3 -74.2,88.9 -75.0,89.5 -75.6,90.0 -76.2,90.4 -76.8,90.7 -77.2,91.0 -77.7,91.2 -78.0,91.4 -78.3,91.5 -78.6,91.6 -78.7,91.7 -80.2,88.7 -80.0,88.6 -79.7,88.5 -79.5,88.3 -79.2,88.2 -78.8,88.0 -78.5,87.8 -78.0,87.5 -77.6,87.2 -77.0,86.8 -76.4,86.3 -75.6,85.6 -74.8,85.0 -74.0,84.3 -73.1,83.6 -72.2,83.0 -71.4,82.5 -70.5,82.0 -69.6,81.6 -68.7,81.3 -67.9,81.0 -67.1,80.8 -66.5,80.6 -65.9,80.4 -65.6,80.3ZM-87.5,89.9 -87.3,89.3 -86.9,88.8 -86.4,88.5 -79.3,88.3 -78.6,88.3 -77.9,88.6 -77.5,89.2 -77.3,89.9 -77.5,90.6 -81.4,96.6 -81.8,97.1 -82.4,97.3 -83.0,97.3 -83.5,97.1 -83.9,96.6 -87.3,90.5ZM-40.2,81.1 -40.1,81.6 -40.0,82.3 -39.9,83.2 -39.8,84.1 -39.6,85.0 -39.4,85.9 -39.3,86.7 -39.1,87.5 -38.9,88.3 -38.8,89.0 -38.7,89.6 -38.6,90.1 -38.5,90.5 -38.4,90.7 -38.3,90.9 -38.1,91.2 -37.7,91.5 -37.2,91.9 -36.6,92.2 -35.9,92.6 -35.1,92.9 -34.2,93.3 -33.1,93.6 -32.0,94.0 -30.8,94.3 -29.3,94.7 -27.8,95.0 -26.1,95.4 -24.4,95.7 -22.7,96.1 -21.1,96.4 -19.6,96.7 -18.2,97.1 -16.7,97.4 -15.3,97.8 -13.9,98.2 -12.6,98.5 -11.5,98.8 -10.4,99.1 -9.5,99.4 -8.9,99.6 -8.3,99.8 -7.9,99.9 -7.5,100.1 -7.2,100.3 -7.1,100.5 -7.1,100.4 -7.2,100.4 -8.7,103.3 -9.0,103.2 -9.2,103.0 -9.2,103.0 -9.2,103.0 -9.2,103.0 -9.5,102.9 -9.8,102.8 -10.5,102.6 -11.3,102.4 -12.3,102.2 -13.5,101.9 -14.8,101.7 -16.1,101.4 -17.5,101.1 -19.0,100.8 -20.4,100.5 -21.9,100.2 -23.5,99.9 -25.1,99.6 -26.9,99.3 -28.6,99.0 -30.2,98.7 -31.8,98.4 -33.2,98.0 -34.4,97.7 -35.6,97.3 -36.6,96.9 -37.7,96.5 -38.6,96.1 -39.5,95.6 -40.3,95.0 -41.1,94.4 -41.8,93.6 -42.4,92.8 -42.8,91.9 -43.0,91.1 -43.1,90.4 -43.3,89.7 -43.4,89.1 -43.5,88.5 -43.7,87.7 -43.9,86.8 -44.1,85.8 -44.3,84.8 -44.4,83.9 -44.6,83.1 -44.7,82.4 -44.8,81.9ZM-10.1,101.6 -10.0,100.9 -9.5,100.3 -8.9,100.0 -1.7,99.5 -1.1,99.5 -0.6,99.7 -0.2,100.2 -0.0,100.8 -0.2,101.4 -2.9,107.9 -3.3,108.4 -3.8,108.6 -4.5,108.6 -5.0,108.4 -9.5,102.9 -10.0,102.4ZM-29.8,95.6 -29.8,96.0 -29.7,96.4 -29.7,97.0 -29.6,97.6 -29.6,98.3 -29.5,99.1 -29.5,99.8 -29.5,100.6 -29.6,101.3 -29.7,102.1 -29.8,102.9 -29.9,103.8 -30.0,104.6 -30.2,105.4 -30.4,106.2 -30.5,106.9 -30.8,107.7 -31.0,108.4 -31.3,109.1 -31.6,109.8 -31.9,110.3 -32.1,110.9 -32.3,111.3 -32.5,111.6 -35.5,110.3 -35.3,109.9 -35.2,109.5 -34.9,109.0 -34.7,108.4 -34.4,107.8 -34.2,107.2 -34.0,106.6 -33.9,106.1 -33.7,105.4 -33.6,104.8 -33.5,104.0 -33.3,103.3 -33.2,102.5 -33.2,101.8 -33.1,101.1 -33.1,100.4 -33.1,99.8 -33.1,99.2 -33.1,98.6 -33.2,97.9 -33.2,97.4 -33.3,96.8 -33.4,96.3 -33.4,96.0ZM-40.7,114.8 -40.6,114.2 -40.2,113.7 -34.8,109.1 -34.1,108.7 -33.4,108.7 -32.7,109.1 -32.3,109.6 -32.1,110.4 -31.4,117.4 -31.6,118.0 -32.0,118.5 -32.5,118.8 -33.1,118.8 -39.6,116.2 -40.2,115.9 -40.6,115.4ZM-21.6,97.1 -21.5,97.5 -21.3,98.0 -21.1,98.6 -20.9,99.4 -20.6,100.2 -20.4,101.0 -20.2,101.9 -20.0,102.7 -20.0,103.6 -19.9,104.5 -19.9,105.3 -19.9,106.2 -19.9,107.1 -19.9,107.9 -19.9,108.7 -19.9,109.5 -19.9,110.3 -19.9,111.1 -19.8,112.0 -19.8,112.8 -19.8,113.6 -19.8,114.3 -19.8,114.9 -19.8,115.4 -23.1,115.4 -23.1,115.0 -23.2,114.4 -23.2,113.7 -23.2,112.9 -23.2,112.1 -23.3,111.2 -23.3,110.3 -23.3,109.5 -23.3,108.7 -23.3,107.9 -23.4,107.1 -23.4,106.2 -23.4,105.4 -23.4,104.7 -23.5,103.9 -23.6,103.3 -23.7,102.6 -23.8,101.9 -24.0,101.1 -24.3,100.4 -24.5,99.7 -24.7,99.1 -24.9,98.6 -25.0,98.1ZM-26.2,121.1 -26.1,120.5 -23.0,114.1 -22.5,113.5 -21.8,113.2 -21.1,113.2 -20.4,113.5 -20.0,114.1 -16.6,120.3 -16.4,120.9 -16.6,121.5 -17.0,122.0 -17.5,122.3 -24.5,122.4 -25.1,122.4 -25.7,122.2 -26.1,121.7Z"/>
</defs>
<rect width="1105" height="637" fill="#fff"/>
<path d="M541.20,76.00L549.00,76.00L549.00,99.90L680.90,99.90A5.8,5.8 0 0 1 686.70,105.70L686.70,136.20L693.80,136.20L682.70,154.90L671.60,136.20L678.70,136.20L678.70,110.70A2.4,2.4 0 0 0 676.30,108.30L415.50,108.30A2.4,2.4 0 0 0 413.10,110.70L413.10,136.20L420.20,136.20L409.10,154.90L398.00,136.20L405.10,136.20L405.10,105.70A5.8,5.8 0 0 1 410.90,99.90L541.20,99.90Z" fill="url(#gTopL)" clip-path="url(#cL)"/>
<path d="M541.20,76.00L549.00,76.00L549.00,99.90L680.90,99.90A5.8,5.8 0 0 1 686.70,105.70L686.70,136.20L693.80,136.20L682.70,154.90L671.60,136.20L678.70,136.20L678.70,110.70A2.4,2.4 0 0 0 676.30,108.30L415.50,108.30A2.4,2.4 0 0 0 413.10,110.70L413.10,136.20L420.20,136.20L409.10,154.90L398.00,136.20L405.10,136.20L405.10,105.70A5.8,5.8 0 0 1 410.90,99.90L541.20,99.90Z" fill="url(#gTopR)" clip-path="url(#cR)"/>
<path d="M403.45,198.00L411.75,198.00L411.75,222.15L477.65,222.15A6.0,6.0 0 0 1 483.65,228.15L483.65,258.20L490.80,258.20L479.50,277.40L468.20,258.20L475.35,258.20L475.35,233.05A2.2,2.2 0 0 0 473.15,230.85L341.45,230.85A2.2,2.2 0 0 0 339.25,233.05L339.25,258.20L346.40,258.20L335.10,277.40L323.80,258.20L330.95,258.20L330.95,228.15A6.0,6.0 0 0 1 336.95,222.15L403.45,222.15Z" fill="url(#gMouse)"/>
<path d="M677.90,198.00L686.10,198.00L686.10,222.15L752.30,222.15A6.0,6.0 0 0 1 758.30,228.15L758.30,258.20L765.40,258.20L754.20,277.20L743.00,258.20L750.10,258.20L750.10,233.45A2.6,2.6 0 0 0 747.50,230.85L616.60,230.85A2.6,2.6 0 0 0 614.00,233.45L614.00,258.20L621.10,258.20L609.90,277.20L598.70,258.20L605.80,258.20L605.80,228.15A6.0,6.0 0 0 1 611.80,222.15L677.90,222.15Z" fill="url(#gMarm)"/>
<path d="M331.75,307.00L340.05,307.00L340.05,330.75L406.45,330.75A6.0,6.0 0 0 1 412.45,336.75L412.45,366.00L419.70,366.00L408.30,385.30L396.90,366.00L404.15,366.00L404.15,341.45A2.2,2.2 0 0 0 401.95,339.25L269.85,339.25A2.2,2.2 0 0 0 267.65,341.45L267.65,366.00L274.90,366.00L263.50,385.30L252.10,366.00L259.35,366.00L259.35,336.75A6.0,6.0 0 0 1 265.35,330.75L331.75,330.75Z" fill="url(#gMauve)"/>
<path d="M475.80,307.60L484.20,307.60L484.20,366.00L491.50,366.00L480.00,385.30L468.50,366.00L475.80,366.00Z" fill="url(#gMauve)"/>
<path d="M751.85,307.00L760.15,307.00L760.15,330.75L825.55,330.75A6.0,6.0 0 0 1 831.55,336.75L831.55,366.30L838.80,366.30L827.40,385.40L816.00,366.30L823.25,366.30L823.25,341.45A2.2,2.2 0 0 0 821.05,339.25L689.65,339.25A2.2,2.2 0 0 0 687.45,341.45L687.45,366.30L694.70,366.30L683.30,385.40L671.90,366.30L679.15,366.30L679.15,336.75A6.0,6.0 0 0 1 685.15,330.75L751.85,330.75Z" fill="url(#gGreen)"/>
<path d="M258.80,418.00L267.20,418.00L267.20,463.10L494.00,463.10A6.0,6.0 0 0 1 500.00,469.10L500.00,499.00L507.30,499.00L496.00,518.00L484.70,499.00L492.00,499.00L492.00,473.30A2.2,2.2 0 0 0 489.80,471.10L81.20,471.10A2.2,2.2 0 0 0 79.00,473.30L79.00,499.00L86.30,499.00L75.00,518.00L63.70,499.00L71.00,499.00L71.00,469.10A6.0,6.0 0 0 1 77.00,463.10L258.80,463.10Z" fill="url(#gOrange)"/>
<path d="M171.20,466.00L179.20,466.00L179.20,499.00L186.50,499.00L175.20,518.00L163.90,499.00L171.20,499.00Z" fill="url(#gOrange)"/>
<path d="M258.80,466.00L267.20,466.00L267.20,499.00L274.30,499.00L263.00,518.00L251.70,499.00L258.80,499.00Z" fill="url(#gOrange)"/>
<path d="M364.20,466.00L372.20,466.00L372.20,499.00L379.50,499.00L368.20,518.00L356.90,499.00L364.20,499.00Z" fill="url(#gOrange)"/>
<rect x="340" y="160" width="133" height="39" rx="3.1" fill="#3074a3"/>
<rect x="615.6" y="160" width="133.3" height="39" rx="3.1" fill="#059078"/>
<g fill="none" stroke="#fff" stroke-width="1.15" stroke-linecap="round"><circle cx="431.4" cy="174.45" r="7.15"/><circle cx="450.8" cy="174.45" r="7.15"/><path d="M432.4,167.8Q433.1,173.0 437.8,174.0"/><path d="M449.8,167.8Q449.1,173.0 444.4,174.0"/><ellipse cx="441.2" cy="183.3" rx="9.35" ry="7.95" fill="#3074a3"/><circle cx="440.9" cy="189.4" r="1.5"/></g><rect x="437.0" y="183.0" width="2.8" height="2.6" fill="#fff"/><rect x="442.0" y="183.0" width="2.8" height="2.6" fill="#fff"/>
<g transform="translate(700,162) scale(0.05653)" fill="none" stroke="#fff" stroke-width="23" stroke-linecap="round" stroke-linejoin="round"><path d="M410,92C300,88 222,140 222,215C222,290 270,330 290,400C296,440 296,470 320,500C350,530 380,538 412,538C445,538 475,530 505,500C528,470 528,440 535,400C555,330 603,290 603,215C603,140 525,88 410,92Z"/><path d="M395,90C410,70 425,62 440,66C452,72 455,85 470,96"/><path d="M222,250C180,250 160,290 172,330C182,365 205,385 240,385"/><path d="M603,250C645,250 665,290 653,330C643,365 620,385 585,385"/><path d="M215,300C225,320 240,335 262,345"/><path d="M610,300C600,320 585,335 563,345"/><path d="M412,152C330,150 282,170 280,215C280,260 335,285 352,320C355,350 325,380 325,420C328,472 365,508 412,508C460,508 495,472 498,420C498,380 468,350 472,320C490,285 545,260 545,215C543,170 495,150 412,152Z"/><path d="M352,424Q412,440 472,424" stroke-width="30"/><rect x="340" y="218" width="44" height="44"/><rect x="432" y="218" width="44" height="44"/></g><g fill="#fff"><circle cx="721.5" cy="181.5" r="0.7"/><circle cx="724.5" cy="181.5" r="0.7"/></g>
<g transform="translate(1010.4,270.0) rotate(0) scale(1.0)"><use href="#nrn" fill="#059078"/><circle r="12.0" fill="#85c9bd"/></g>
<g transform="translate(79.0,135.2) rotate(10) scale(0.515)"><use href="#nrn" fill="#3f85c8"/><circle r="12.0" fill="#a4c6e6"/></g>
<g transform="translate(136.8,232.3) rotate(-134) scale(0.975)"><use href="#nrn" fill="#059078"/><circle r="12.0" fill="#85c9bd"/></g>
<g transform="translate(76.8,339.0) rotate(123) scale(0.51)"><use href="#nrn" fill="#f06322"/><circle r="12.0" fill="#f8b59b"/></g>
<g transform="translate(976.05,148.1) rotate(-102) scale(0.535)"><use href="#nrn" fill="#f06322"/><circle r="11.4" fill="#f8b59b"/></g>
<g transform="translate(899.0,232.0) rotate(145) scale(0.52)"><use href="#nrn" fill="#3f85c8"/><circle r="12.0" fill="#a4c6e6"/></g>
<text x="223.1" y="57.5" textLength="162.3" lengthAdjust="spacingAndGlyphs" font-size="39.53" fill="#3f86c8" style="font-weight:400;stroke:#3f86c8;stroke-width:0.5px">Systemic</text>
<text x="396.2" y="57.5" textLength="138.6" lengthAdjust="spacingAndGlyphs" font-size="39.53" fill="#3f86c8" style="font-weight:400;stroke:#3f86c8;stroke-width:0.5px">Delivery</text>
<text x="545.5" y="57.5" textLength="74.3" lengthAdjust="spacingAndGlyphs" font-size="39.53" fill="#3f86c8" style="font-weight:400;stroke:#3f86c8;stroke-width:0.5px">AAV</text>
<text x="631.0" y="57.5" textLength="121.3" lengthAdjust="spacingAndGlyphs" font-size="39.53" fill="#3f86c8" style="font-weight:400;stroke:#3f86c8;stroke-width:0.5px">Capsid</text>
<text x="763.3" y="57.5" textLength="121.6" lengthAdjust="spacingAndGlyphs" font-size="39.53" fill="#3f86c8" style="font-weight:400;stroke:#3f86c8;stroke-width:0.5px">Choice</text>
<text x="357.7" y="183.8" textLength="50.8" lengthAdjust="spacingAndGlyphs" font-size="13.22" fill="#fff" style="font-weight:400;stroke:#fff;stroke-width:0.5px">Mouse*</text>
<text x="632.7" y="183.8" textLength="65.4" lengthAdjust="spacingAndGlyphs" font-size="13.22" fill="#fff" style="font-weight:400;stroke:#fff;stroke-width:0.5px">Marmoset</text>
<text x="322.4" y="293.6" textLength="28.1" lengthAdjust="spacingAndGlyphs" font-size="13.22" fill="#0a4673" style="font-weight:400;stroke:#0a4673;stroke-width:0.5px">CNS</text>
<text x="464.1" y="293.6" textLength="27.8" lengthAdjust="spacingAndGlyphs" font-size="13.22" fill="#0a4673" style="font-weight:400;stroke:#0a4673;stroke-width:0.5px">PNS</text>
<text x="593.8" y="293.6" textLength="28.8" lengthAdjust="spacingAndGlyphs" font-size="13.22" fill="#0a4673" style="font-weight:400;stroke:#0a4673;stroke-width:0.5px">PNS</text>
<text x="742.5" y="293.6" textLength="28.1" lengthAdjust="spacingAndGlyphs" font-size="13.22" fill="#0a4673" style="font-weight:400;stroke:#0a4673;stroke-width:0.5px">CNS</text>
<text x="589.9" y="316.9" textLength="34.7" lengthAdjust="spacingAndGlyphs" font-size="13.51" fill="#4b4b4d" style="font-weight:400;stroke:#4b4b4d;stroke-width:0.3px">None</text>
<text x="578.7" y="334.4" textLength="60.3" lengthAdjust="spacingAndGlyphs" font-size="13.51" fill="#4b4b4d" style="font-weight:400;stroke:#4b4b4d;stroke-width:0.3px">Validated</text>
<text x="204.4" y="404.4" textLength="115.6" lengthAdjust="spacingAndGlyphs" font-size="13.22" fill="#0a4673" style="font-weight:400;stroke:#0a4673;stroke-width:0.5px">Cell-Type Specific</text>
<text x="384.7" y="404.4" textLength="38.1" lengthAdjust="spacingAndGlyphs" font-size="13.22" fill="#0a4673" style="font-weight:400;stroke:#0a4673;stroke-width:0.5px">Broad</text>
<text x="380.7" y="423.4" textLength="48.3" lengthAdjust="spacingAndGlyphs" font-size="13.95" fill="#c21418" style="font-weight:700">PHP.eB</text>
<text x="385.1" y="441.6" textLength="39.7" lengthAdjust="spacingAndGlyphs" font-size="13.95" fill="#4b4b4d" style="font-weight:400">PHP.B</text>
<text x="460.8" y="404.4" textLength="37.3" lengthAdjust="spacingAndGlyphs" font-size="13.22" fill="#0a4673" style="font-weight:400;stroke:#0a4673;stroke-width:0.5px">Broad</text>
<text x="459.9" y="423.4" textLength="38.9" lengthAdjust="spacingAndGlyphs" font-size="13.95" fill="#c21418" style="font-weight:700">PHP.S</text>
<text x="647.1" y="404.4" textLength="79.5" lengthAdjust="spacingAndGlyphs" font-size="13.22" fill="#0a4673" style="font-weight:400;stroke:#0a4673;stroke-width:0.5px">Neuron-Bias</text>
<text x="654.1" y="423.4" textLength="59.5" lengthAdjust="spacingAndGlyphs" font-size="13.95" fill="#c21418" style="font-weight:700">CAP-B10</text>
<text x="808.4" y="404.4" textLength="38.6" lengthAdjust="spacingAndGlyphs" font-size="13.22" fill="#0a4673" style="font-weight:400;stroke:#0a4673;stroke-width:0.5px">Broad</text>
<text x="796.4" y="423.4" textLength="60.4" lengthAdjust="spacingAndGlyphs" font-size="13.95" fill="#c21418" style="font-weight:700">CAP-B22</text>
<text x="42.7" y="539.4" textLength="69.1" lengthAdjust="spacingAndGlyphs" font-size="13.22" fill="#0a4673" style="font-weight:400;stroke:#0a4673;stroke-width:0.5px">Astrocytes</text>
<text x="47.0" y="562.6" textLength="47.2" lengthAdjust="spacingAndGlyphs" font-size="13.95" fill="#c21418" style="font-weight:700">PHP.eB</text>
<text x="26.3" y="580.8" textLength="89.1" lengthAdjust="spacingAndGlyphs" font-size="13.95" fill="#c21418" style="font-weight:700">with promoter</text>
<text x="25.3" y="598.9" textLength="90.8" lengthAdjust="spacingAndGlyphs" font-size="13.95" fill="#c21418" style="font-weight:700">or CRE animal</text>
<text x="148.8" y="539.4" textLength="54.5" lengthAdjust="spacingAndGlyphs" font-size="13.22" fill="#0a4673" style="font-weight:400;stroke:#0a4673;stroke-width:0.5px">Neurons</text>
<text x="146.2" y="562.6" textLength="59.8" lengthAdjust="spacingAndGlyphs" font-size="13.95" fill="#c21418" style="font-weight:700">CAP-B10</text>
<text x="155.3" y="580.8" textLength="41.5" lengthAdjust="spacingAndGlyphs" font-size="13.95" fill="#4b4b4d" style="font-weight:400">PHP.N</text>
<text x="236.4" y="539.4" textLength="56.0" lengthAdjust="spacingAndGlyphs" font-size="13.22" fill="#0a4673" style="font-weight:400;stroke:#0a4673;stroke-width:0.5px">Vascular</text>
<text x="238.8" y="562.6" textLength="48.1" lengthAdjust="spacingAndGlyphs" font-size="13.95" fill="#c21418" style="font-weight:700">PHP.V1</text>
<text x="218.2" y="580.8" textLength="89.6" lengthAdjust="spacingAndGlyphs" font-size="13.95" fill="#c21418" style="font-weight:700">with promoter</text>
<text x="217.6" y="598.9" textLength="91.0" lengthAdjust="spacingAndGlyphs" font-size="13.95" fill="#c21418" style="font-weight:700">or CRE animal</text>
<text x="341.8" y="539.4" textLength="59.1" lengthAdjust="spacingAndGlyphs" font-size="13.22" fill="#0a4673" style="font-weight:400;stroke:#0a4673;stroke-width:0.5px">Microglia</text>
<text x="356.6" y="562.5" textLength="35.0" lengthAdjust="spacingAndGlyphs" font-size="13.51" fill="#4b4b4d" style="font-weight:400;stroke:#4b4b4d;stroke-width:0.3px">None</text>
<text x="345.2" y="580.6" textLength="61.7" lengthAdjust="spacingAndGlyphs" font-size="13.51" fill="#4b4b4d" style="font-weight:400;stroke:#4b4b4d;stroke-width:0.3px">Validated</text>
<text x="437.2" y="539.4" textLength="104.7" lengthAdjust="spacingAndGlyphs" font-size="13.22" fill="#0a4673" style="font-weight:400;stroke:#0a4673;stroke-width:0.5px">Oligoendrocytes</text>
<text x="466.2" y="562.6" textLength="47.9" lengthAdjust="spacingAndGlyphs" font-size="13.95" fill="#c21418" style="font-weight:700">PHP.eB</text>
<text x="444.8" y="580.8" textLength="90.5" lengthAdjust="spacingAndGlyphs" font-size="13.95" fill="#c21418" style="font-weight:700">with promoter</text>
<text x="443.8" y="598.9" textLength="92.3" lengthAdjust="spacingAndGlyphs" font-size="13.95" fill="#c21418" style="font-weight:700">or CRE animal</text>
</svg>
</body></html>
